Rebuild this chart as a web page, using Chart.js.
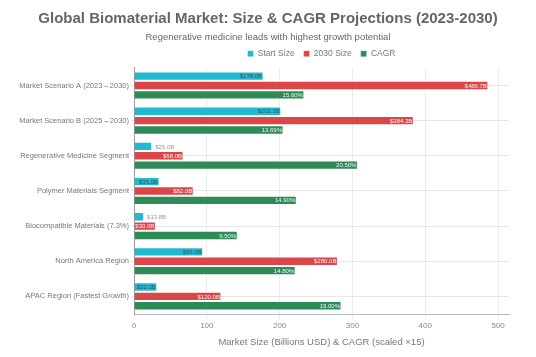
<!DOCTYPE html>
<html>
<head>
<meta charset="utf-8">
<script src="https://cdn.jsdelivr.net/npm/chart.js@4"></script>
<style>
  html, body { margin: 0; padding: 0; background: #fff; }
  #wrap { width: 536px; height: 357px; }
</style>
</head>
<body>
<div id="wrap"><canvas id="c" width="536" height="357"></canvas></div>
<script>
const categories = [
  "Market Scenario A (2023\u21922030)",
  "Market Scenario B (2025\u21922030)",
  "Regenerative Medicine Segment",
  "Polymer Materials Segment",
  "Biocompatible Materials (7.3%)",
  "North America Region",
  "APAC Region (Fastest Growth)"
];
const startSize = [178.0, 202.3, 25.0, 35.0, 13.8, 95.0, 32.0];
const size2030 = [486.7, 384.3, 68.0, 82.0, 30.0, 280.0, 120.0];
const cagrPct = [15.60, 13.69, 20.50, 14.90, 9.50, 14.80, 19.00];
const cagrScale = 15;
const cagrScaled = cagrPct.map(v => v * cagrScale);
const xTicks = [0, 100, 200, 300, 400, 500];

const FONT = "'Liberation Sans', Arial, sans-serif";

const labelPlugin = {
  id: 'valueLabels',
  afterDatasetsDraw(chart) {
    const ctx = chart.ctx;
    ctx.save();
    ctx.font = "6px " + FONT;
    ctx.textBaseline = 'middle';
    chart.data.datasets.forEach((ds, di) => {
      const meta = chart.getDatasetMeta(di);
      meta.data.forEach((el, i) => {
        const text = di === 2 ? cagrPct[i].toFixed(2) + '%' : '$' + ds.data[i].toFixed(1) + 'B';
        const w = ctx.measureText(text).width;
        const barW = el.x - el.base;
        if (w + 2 <= barW) {
          ctx.textAlign = 'right';
          ctx.fillStyle = di === 0 ? '#35525c' : '#f4f4f4';
          ctx.fillText(text, el.x - 1.5, el.y + 0.5);
        } else {
          ctx.textAlign = 'left';
          ctx.fillStyle = '#999';
          ctx.fillText(text, el.x + 3, el.y + 0.5);
        }
      });
    });
    ctx.restore();
  }
};

new Chart(document.getElementById('c'), {
  type: 'bar',
  data: {
    labels: categories,
    datasets: [
      { label: 'Start Size', data: startSize, backgroundColor: '#22bad1', borderColor: 'rgba(255,255,255,0.35)', borderWidth: 1 },
      { label: '2030 Size', data: size2030, backgroundColor: '#db4749', borderColor: 'rgba(255,255,255,0.35)', borderWidth: 1 },
      { label: 'CAGR', data: cagrScaled, backgroundColor: '#2e8b57', borderColor: 'rgba(255,255,255,0.35)', borderWidth: 1 }
    ]
  },
  options: {
    indexAxis: 'y',
    responsive: false,
    animation: false,
    devicePixelRatio: 1,
    layout: { padding: { left: 0, right: 0, top: 4, bottom: 9 } },
    datasets: { bar: { categoryPercentage: 0.8, barPercentage: 1.0 } },
    plugins: {
      title: {
        display: true,
        text: 'Global Biomaterial Market: Size & CAGR Projections (2023-2030)',
        color: '#666',
        font: { family: FONT, size: 15, weight: 'bold' },
        padding: { top: 6, bottom: 4 }
      },
      subtitle: {
        display: true,
        text: 'Regenerative medicine leads with highest growth potential',
        color: '#666',
        font: { family: FONT, size: 9.5 },
        padding: { top: 0, bottom: -3 }
      },
      legend: {
        display: true,
        position: 'top',
        fullSize: false,
        labels: {
          boxWidth: 6, boxHeight: 6, padding: 9,
          color: '#777',
          font: { family: FONT, size: 8.5 }
        }
      },
      tooltip: { enabled: false }
    },
    scales: {
      x: {
        type: 'linear',
        min: 0,
        max: 515,
        afterBuildTicks(axis) {
          axis.ticks = xTicks.map(v => ({ value: v }));
        },
        grid: { color: '#ececec', tickLength: 5 },
        border: { color: '#bbb' },
        ticks: { color: '#888', font: { family: FONT, size: 8 }, padding: 2 },
        title: {
          display: true,
          text: 'Market Size (Billions USD) & CAGR (scaled \u00d715)',
          color: '#777',
          font: { family: FONT, size: 9.5 },
          padding: { top: 4, bottom: 0 }
        }
      },
      y: {
        afterFit(s) { s.width = 134; },
        grid: { color: '#e6e6e6', offset: false, tickLength: 3 },
        border: { color: '#999' },
        ticks: { color: '#777', font: { family: FONT, size: 7.5 }, padding: 2 }
      },
      yR: {
        type: 'category',
        position: 'right',
        display: true,
        afterFit(s) { s.width = 27; },
        grid: { display: false, drawTicks: false },
        border: { display: false },
        ticks: { display: false }
      }
    }
  },
  plugins: [labelPlugin]
});
</script>
</body>
</html>
